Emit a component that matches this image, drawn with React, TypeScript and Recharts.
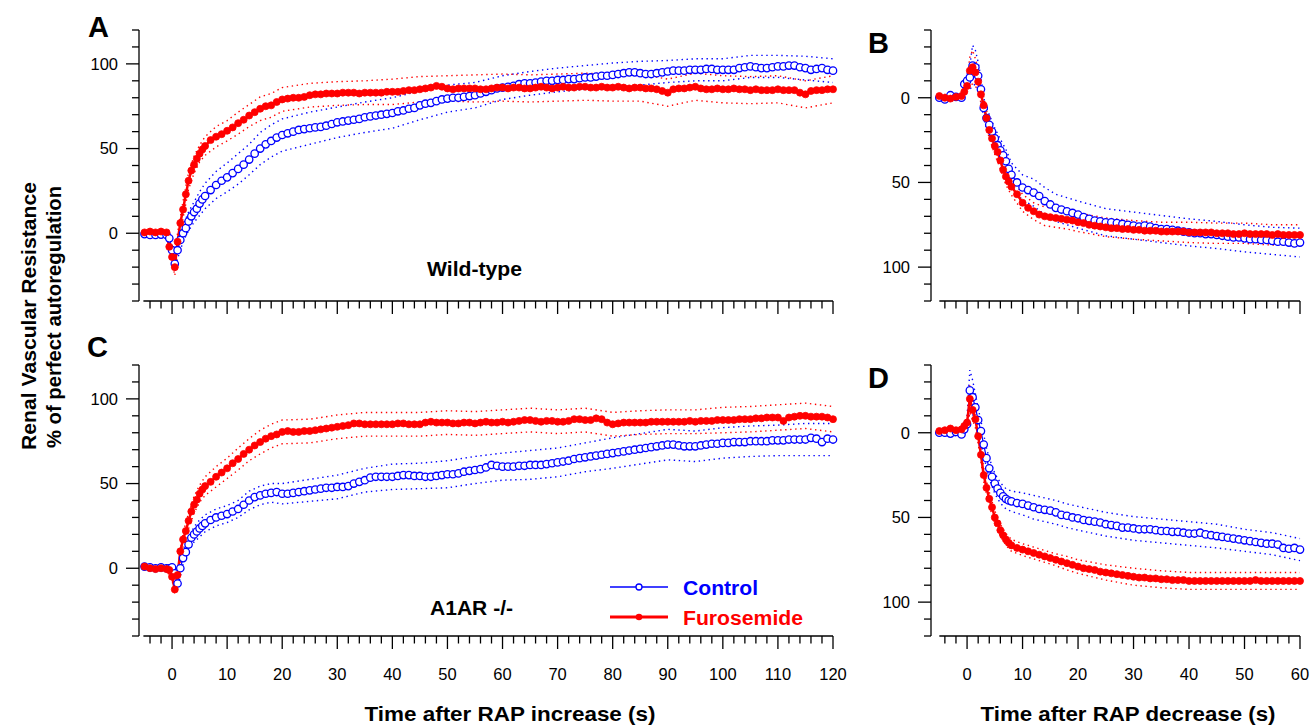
import React from 'react';
import { LineChart, Line, XAxis, YAxis, ReferenceLine } from 'recharts';

const FONT = '"Liberation Sans", Arial, Helvetica, sans-serif';
const BLUE = '#0000FF';
const RED = '#FF0000';

function range(a: number, b: number, step: number): number[] {
  const out: number[] = [];
  const n = Math.round((b - a) / step);
  for (let i = 0; i <= n; i++) out.push(a + i * step);
  return out;
}

// time categories (s)
const timesLeft = [...range(-5, -1, 1), ...range(-0.5, 6, 0.5), ...range(7, 120, 1)];
const timesRight = [...range(-5, -1, 1), ...range(-0.5, 8, 0.5), ...range(9, 60, 1)];
const semTimesLeft = [-5, -1, 0, 0.5, 1, 2, 3, 4, 5, 6, 8, 10, 12, 14, 16, 18, 20, 25, 30, 35, 40, 45, 50, 55, 60, 65, 70, 75, 80, 85, 90, 95, 100, 105, 110, 115, 120];
const semTimesRight = [-5, -1, -0.5, 0, 0.5, 1, 1.5, 2, 2.5, 3, 3.5, 4, 5, 6, 7, 8, 10, 12, 14, 16, 18, 20, 25, 30, 35, 40, 45, 50, 55, 60];

// tick labels
const xLabelsLeft = [0, 10, 20, 30, 40, 50, 60, 70, 80, 90, 100, 110, 120];
const xLabelsRight = [0, 10, 20, 30, 40, 50, 60];
const yLabels = [0, 50, 100];

// Panel A (wild-type, RAP increase)
const aControl = [
  -0.5, -1, -1, -0.8, -1,
  -3, -10, -18, -10, -4, 0, 3, 7, 10, 12.5, 14.5, 17.5, 20, 22,
  25.5, 28.5, 31, 33, 35.5, 38, 40.5, 43.5, 47, 50,
  52.5, 54.5, 56.5, 58, 59, 60, 61, 61.5, 62, 62.5,
  62.8, 63.5, 64.5, 65.5, 66, 66.5, 67, 67.5, 68.5, 69,
  69.5, 70, 70.5, 71, 72, 72.5, 73.5, 74, 75.5, 76.5,
  77, 78, 79, 79.5, 80, 80, 80.5, 81, 81.5, 82.5,
  83.5, 84.5, 85.5, 86, 86.5, 87, 88, 88.5, 88.5, 89,
  89.5, 90, 90, 90.5, 90.5, 91, 91, 91.5, 92, 92,
  92.5, 93, 93, 93.5, 94, 94.5, 95, 95, 94.5, 94,
  94, 94.5, 95, 95.5, 96, 96, 96, 96.5, 96.5, 96.5,
  97, 97, 96.5, 96.5, 96.5, 96.5, 97.5, 98, 98.5, 98,
  97.5, 97.5, 98, 98.5, 98.5, 99, 99, 98, 97.5, 96.5,
  97, 97.5, 96.5, 96,
];
const aFuro = [
  0.5, 1, 0.5, 1, 0.5,
  -8, -14, -20, -5, 6, 14, 23, 31, 37, 40.5, 44, 47, 49.5, 51.5,
  55, 57, 58.5, 60.5, 62.5, 65, 67, 69.5, 71.5, 73.5,
  75, 75.5, 77.5, 79, 79.5, 80, 80, 80.5, 81.5, 82,
  82, 82.5, 82.5, 82.5, 83, 83, 83, 82.5, 83, 83,
  83, 83, 83.5, 83.5, 83.5, 84, 84.5, 84.5, 85, 85.5,
  86, 87, 86.5, 85.5, 85, 85.5, 85.5, 85.5, 85.5, 85,
  85, 85.5, 86, 86, 85.5, 86, 86, 85.5, 85.5, 86,
  86.5, 86, 85.5, 86, 86.5, 86, 86, 86.5, 86.5, 86,
  86, 86.5, 86, 86, 86.5, 86, 85.5, 86, 86, 85.5,
  85.5, 85, 84, 83, 85, 85.5, 85.5, 86, 86.5, 85.5,
  85, 85, 85.5, 85, 85, 85.5, 85, 85, 84.5, 85,
  84.5, 84.5, 84.5, 85, 84.5, 84.5, 84.5, 83, 82, 84,
  84.5, 84.5, 85, 85,
];
const aControlSem = [1, 1, 3, 5, 5, 5, 5.5, 6, 7, 7.5, 8, 8.5, 9, 9, 9.5, 9.5, 9.5, 9.5, 9, 9, 9, 8.5, 8, 7.5, 7, 7, 7, 7, 7, 7, 6.5, 6.5, 6.5, 6.5, 6.5, 7, 7];
const aFuroSem = [1, 1, 3, 5, 5, 5, 5, 5, 5, 5.5, 6, 6, 6.5, 6.5, 7, 7, 7, 7, 7, 7, 7.5, 7.5, 7.5, 8, 8, 8, 8, 8, 8, 8, 8, 8, 8, 8, 8, 8, 8];

// Panel C (A1AR -/-, RAP increase)
const cControl = [
  1, 0.5, 0, 0.5, 0,
  0, 0.5, -3, -9, 0, 6, 9.5, 14, 18, 20, 21.7, 23.5, 25, 26.5,
  28.5, 30, 31, 32, 33.5, 35, 37.5, 40, 42, 43,
  44, 44.5, 45, 44, 44, 44.5, 45, 45.5, 46, 46.5,
  47, 47.5, 47.5, 48, 48, 48.5, 50, 51, 52, 53.5,
  54, 54, 54, 54, 54.5, 55, 55, 54.5, 54.5, 54,
  54, 54.5, 55, 55.5, 55.5, 56, 57, 57.5, 58, 58.5,
  59.5, 61, 60.5, 60, 60, 60, 60.5, 60.5, 61, 61,
  61, 61.5, 62, 62.5, 63, 63.5, 64.5, 65, 65.5, 66,
  66.5, 67, 67.5, 68, 68.5, 69, 69.5, 70, 70.5, 71,
  71.5, 72, 72.5, 73, 73, 72.5, 72, 72, 72, 72.5,
  73, 73.5, 73.5, 74, 74, 74.5, 74.5, 74.5, 75, 75,
  75, 75, 75.5, 75.5, 75.5, 76, 76, 76, 76, 77,
  76.5, 74.5, 76.5, 76,
];
const cFuro = [
  1, 0, -0.5, 0, -0.5,
  -1, -5, -12.5, -4, 10, 17, 22, 28, 33.5, 37.5, 40.5, 44, 46.5, 48.5,
  51, 54, 56.5, 59, 62, 64.5, 67.5, 70, 72.5, 74.5,
  76.5, 78, 79, 80.5, 81, 80.5, 80.5, 81, 81, 81.5,
  82, 82.5, 83, 83.5, 84, 84.5, 85.5, 85.5, 85, 85,
  85, 85, 85, 85, 85.5, 85.5, 85, 85, 85, 86,
  86.5, 86, 86, 86, 85.5, 85.5, 86, 86, 85.5, 86,
  86.5, 86, 86, 86.5, 86, 86.5, 87, 87.5, 87.5, 87,
  86.5, 87, 87, 86.5, 86.5, 87, 88, 88, 87.5, 87.5,
  88.5, 88, 86, 85, 85.5, 86, 86, 86, 86, 86,
  86.5, 86.5, 86.5, 86.5, 86.5, 86.5, 86.5, 87, 86.5, 87,
  87, 87, 87.5, 87.5, 87.5, 87.5, 88, 88, 88, 88.5,
  88.5, 89, 89, 89, 87, 89, 89.5, 90, 90, 89.5,
  89.5, 89.5, 89, 88,
];
const cControlSem = [1, 1, 2, 3, 3, 3.5, 4, 4.5, 5, 5, 5, 5, 5, 5.5, 5.5, 5.5, 6, 6.5, 7, 7, 7.5, 7.5, 8, 8, 8, 8.5, 8.5, 8.5, 9, 9, 9, 9, 9, 9, 9, 9.5, 9.5];
const cFuroSem = [1, 1, 2, 3, 3, 4, 4.5, 5, 5, 5.5, 6, 6, 6.5, 6.5, 7, 7, 7, 7, 7, 7, 7, 7, 7, 7, 7, 7, 7, 7, 7, 7, 7, 7, 7.5, 7.5, 7.5, 7.5, 7.5];

// Panel B (wild-type, RAP decrease)
const bControl = [
  0, 1, -1.5, -0.5, 0,
  -8, -10, -12, -19, -18, -13, -5, 6, 12, 16, 20, 24, 28, 31, 34, 37.5, 42, 45.5,
  50, 53, 54.5, 56, 58, 61, 63, 65, 66, 67,
  68, 69, 70.5, 71.5, 72.5, 73, 73.5, 73.5, 74, 74.5,
  75, 75.5, 76, 75.5, 76, 77, 77.5, 77.5, 78, 78.5,
  79, 79.5, 80, 80, 80.5, 80.5, 81, 81.5, 82, 82.5,
  82.5, 83, 83.5, 83.5, 84, 84, 84.5, 85, 85, 85.5,
  86, 85.5,
];
const bFuro = [
  -1, 0, 0.5, -0.5, -1,
  -3.5, -7, -16, -18, -15, -9.5, -2, 4.5, 12, 19, 24, 28.5, 32, 37, 42.5, 46.5, 49.5, 52.5,
  57, 62, 65, 67, 69, 70, 70.5, 71, 71.5, 72,
  72.5, 73.5, 74, 75, 75.5, 76, 76.5, 77, 77, 77.5,
  77.5, 78, 78, 78.5, 78.5, 78.5, 79, 79, 79, 79,
  79, 79.5, 79.5, 79.5, 79.5, 79.5, 80, 80, 80, 80.5,
  80.5, 80, 80.5, 80.5, 80.5, 80.5, 81, 80.5, 81, 81,
  81, 81,
];
const bControlSem = [1, 1, 3, 4, 7, 12, 10, 8, 7, 6, 6, 6, 6, 6.5, 7, 7, 7.5, 8, 8, 8, 8, 8, 8, 8, 8, 8, 8, 8, 8, 8.5];
const bFuroSem = [1, 1, 2, 3, 8, 10, 8, 6, 5, 5, 5, 5, 5, 5, 5, 5, 5, 5, 5.5, 5.5, 5.5, 5.5, 5.5, 5.5, 5.5, 6, 6, 6, 6, 6];

// Panel D (A1AR -/-, RAP decrease)
const dControl = [
  0, 0, 0.5, -0.5, 1,
  -2, -5, -25, -21, -15, -7.5, -1, 7, 15, 21, 26, 30, 33, 35.5, 37.5, 39, 40, 40.5,
  41.5, 42, 43, 44, 45, 45.5, 46, 47, 48.5, 49,
  50, 50.5, 51.5, 52, 52.5, 53, 54, 54.5, 55, 56,
  56, 56.5, 57, 57, 57, 57.5, 58, 58, 58.5, 58.5,
  59, 59.5, 59.5, 59, 60, 60.5, 61, 61.5, 62, 62.5,
  63, 63.5, 64, 64.5, 65, 65.5, 65.5, 66, 68, 68.5,
  68, 69,
];
const dFuro = [
  -1, -1.5, -2.5, -1.5, -2,
  -4, -6, -20, -13.5, -8, 2, 13, 25, 32.5, 39, 44, 50, 53.5, 57.5, 60.5, 63, 65, 66.5,
  68, 69, 70, 71, 72, 73, 74, 75, 76, 77,
  78, 79, 80, 80.5, 81, 82, 82.5, 83, 83.5, 84,
  84.5, 85, 85.5, 85.5, 86, 86, 86.5, 86.5, 87, 87,
  87, 87.5, 87.5, 87.5, 87.5, 87.5, 87.5, 87.5, 87.5, 87.5,
  87.5, 87.5, 87.5, 87, 87.5, 87.5, 87.5, 87.5, 87.5, 87.5,
  87.5, 87.5,
];
const dControlSem = [1, 1, 2, 4, 12, 10, 8, 7, 6, 6, 6, 6, 6, 6, 6, 6, 6.5, 7, 7, 7, 7, 7, 7, 7, 7, 7, 7, 6.5, 6.5, 6.5];
const dFuroSem = [1, 1, 2, 3, 8, 6, 5, 4.5, 4, 4, 4, 4, 4, 3.5, 3.5, 3.5, 3.5, 3.5, 3.5, 3.5, 4, 4, 4.5, 5, 5, 5, 5, 5, 5, 5];

type Pt = { t: number; v: number };
const series = (times: number[], vals: number[]): Pt[] => times.map((t, i) => ({ t, v: vals[i] }));
const band = (times: number[], vals: number[], semT: number[], sem: number[], sign: number): Pt[] =>
  semT.map((t, i) => ({ t, v: vals[times.indexOf(t)] + sign * sem[i] }));

const PLOT_TOP = 30;
const PLOT_H = 271;
const PLOT_BOTTOM = PLOT_TOP + PLOT_H;

const yTicks = range(-40, 120, 10);

interface PanelProps {
  left: number;
  top: number;
  yWidth: number;
  plotW: number;
  rightPad: number;
  domainX: [number, number];
  xTicks: number[];
  xLabels: number[];
  xStart: number;
  xEnd: number;
  reversed: boolean;
  showXLabels: boolean;
  times: number[];
  semTimes: number[];
  ctrl: number[];
  furo: number[];
  ctrlSem: number[];
  furoSem: number[];
}

function Panel(p: PanelProps) {
  const xAxisH = p.showXLabels ? 60 : 30;
  const W = p.yWidth + p.plotW + p.rightPad;
  const H = PLOT_TOP + PLOT_H + xAxisH;
  const ctrlData = series(p.times, p.ctrl);
  const furoData = series(p.times, p.furo);
  const ctrlUp = band(p.times, p.ctrl, p.semTimes, p.ctrlSem, 1);
  const ctrlLo = band(p.times, p.ctrl, p.semTimes, p.ctrlSem, -1);
  const furoUp = band(p.times, p.furo, p.semTimes, p.furoSem, 1);
  const furoLo = band(p.times, p.furo, p.semTimes, p.furoSem, -1);
  const yBottom = p.reversed ? 120 : -40;

  const XTick = (props: any) => {
    const x = props.x;
    const v = props.payload.value;
    const major = p.xLabels.indexOf(v) >= 0;
    const len = major ? 13 : 7.5;
    return (
      <g>
        <line x1={x} y1={PLOT_BOTTOM} x2={x} y2={PLOT_BOTTOM + len} stroke="#000" strokeWidth={1.3} />
        {major && p.showXLabels ? (
          <text x={x} y={PLOT_BOTTOM + 44} textAnchor="middle" fontSize={16.5} fontFamily={FONT} fill="#000">
            {v}
          </text>
        ) : null}
      </g>
    );
  };
  const YTick = (props: any) => {
    const y = props.y;
    const x = p.yWidth;
    const v = props.payload.value;
    const major = yLabels.indexOf(v) >= 0;
    const len = major ? 13 : 7;
    return (
      <g>
        <line x1={x - len} y1={y} x2={x} y2={y} stroke="#000" strokeWidth={1.3} />
        {major ? (
          <text x={x - 21} y={y} dy="0.35em" textAnchor="end" fontSize={16.5} fontFamily={FONT} fill="#000">
            {v}
          </text>
        ) : null}
      </g>
    );
  };

  return (
    <div style={{ position: 'absolute', left: p.left, top: p.top }}>
      <LineChart width={W} height={H} margin={{ top: PLOT_TOP, right: p.rightPad, bottom: 0, left: 0 }}>
        <XAxis
          dataKey="t"
          type="number"
          domain={p.domainX}
          ticks={p.xTicks}
          interval={0}
          axisLine={false}
          tickLine={false}
          tickSize={0}
          tickMargin={0}
          height={xAxisH}
          tick={XTick}
        />
        <YAxis
          type="number"
          domain={[-40, 120]}
          reversed={p.reversed}
          ticks={yTicks}
          interval={0}
          width={p.yWidth}
          axisLine={{ stroke: '#000', strokeWidth: 1.3 }}
          tickLine={false}
          tickSize={0}
          tickMargin={0}
          tick={YTick}
        />
        <ReferenceLine
          segment={[{ x: p.xStart, y: yBottom }, { x: p.xEnd, y: yBottom }]}
          stroke="#000"
          strokeWidth={1.3}
        />
        <Line data={ctrlUp} dataKey="v" stroke={BLUE} strokeWidth={1.4} strokeDasharray="1.4 3.6" dot={false} activeDot={false} isAnimationActive={false} />
        <Line data={ctrlLo} dataKey="v" stroke={BLUE} strokeWidth={1.4} strokeDasharray="1.4 3.6" dot={false} activeDot={false} isAnimationActive={false} />
        <Line data={furoUp} dataKey="v" stroke={RED} strokeWidth={1.4} strokeDasharray="1.4 3.6" dot={false} activeDot={false} isAnimationActive={false} />
        <Line data={furoLo} dataKey="v" stroke={RED} strokeWidth={1.4} strokeDasharray="1.4 3.6" dot={false} activeDot={false} isAnimationActive={false} />
        <Line
          data={ctrlData}
          dataKey="v"
          stroke={BLUE}
          strokeWidth={1.2}
          dot={{ r: 3.7, stroke: BLUE, strokeWidth: 1.3, fill: '#fff' }}
          activeDot={false}
          isAnimationActive={false}
        />
        <Line
          data={furoData}
          dataKey="v"
          stroke={RED}
          strokeWidth={2.5}
          dot={{ r: 3.5, stroke: RED, strokeWidth: 0.8, fill: RED }}
          activeDot={false}
          isAnimationActive={false}
        />
      </LineChart>
    </div>
  );
}

const leftTicks = range(-4, 120, 2);
const rightTicks = range(-4, 60, 2);

export default function App() {
  const bold = { fontFamily: FONT, fontWeight: 700 as const, fill: '#000' };
  return (
    <div style={{ position: 'absolute', left: 0, top: 0, width: 1313, height: 726, background: '#fff', overflow: 'hidden' }}>
      <Panel
        left={60} top={0} yWidth={79} plotW={694} rightPad={24} domainX={[-6, 120]} xTicks={leftTicks} xLabels={xLabelsLeft}
        xStart={-5.2} xEnd={120} reversed={false} showXLabels={false}
        times={timesLeft} semTimes={semTimesLeft} ctrl={aControl} furo={aFuro} ctrlSem={aControlSem} furoSem={aFuroSem}
      />
      <Panel
        left={60} top={335} yWidth={79} plotW={694} rightPad={24} domainX={[-6, 120]} xTicks={leftTicks} xLabels={xLabelsLeft}
        xStart={-5.2} xEnd={120} reversed={false} showXLabels={true}
        times={timesLeft} semTimes={semTimesLeft} ctrl={cControl} furo={cFuro} ctrlSem={cControlSem} furoSem={cFuroSem}
      />
      <Panel
        left={860} top={0} yWidth={71} plotW={369} rightPad={13} domainX={[-6.5, 60]} xTicks={rightTicks} xLabels={xLabelsRight}
        xStart={-5} xEnd={60} reversed={true} showXLabels={false}
        times={timesRight} semTimes={semTimesRight} ctrl={bControl} furo={bFuro} ctrlSem={bControlSem} furoSem={bFuroSem}
      />
      <Panel
        left={860} top={335} yWidth={71} plotW={369} rightPad={13} domainX={[-6.5, 60]} xTicks={rightTicks} xLabels={xLabelsRight}
        xStart={-5} xEnd={60} reversed={true} showXLabels={true}
        times={timesRight} semTimes={semTimesRight} ctrl={dControl} furo={dFuro} ctrlSem={dControlSem} furoSem={dFuroSem}
      />
      <svg width={1313} height={726} style={{ position: 'absolute', left: 0, top: 0, pointerEvents: 'none' }}>
        <text x={88} y={37} fontSize={29} {...bold}>A</text>
        <text x={868} y={53} fontSize={29} {...bold}>B</text>
        <text x={87} y={357} fontSize={29} {...bold}>C</text>
        <text x={868} y={388} fontSize={29} {...bold}>D</text>
        <text x={427} y={276} fontSize={20} textLength={95} lengthAdjust="spacingAndGlyphs" {...bold}>Wild-type</text>
        <text x={430} y={615} fontSize={20} textLength={83} lengthAdjust="spacingAndGlyphs" {...bold}>A1AR -/-</text>
        <line x1={610} y1={587} x2={668} y2={587} stroke={BLUE} strokeWidth={1.3} />
        <circle cx={639} cy={587} r={3} stroke={BLUE} strokeWidth={1.3} fill="#fff" />
        <line x1={610} y1={617} x2={668} y2={617} stroke={RED} strokeWidth={3} />
        <circle cx={639} cy={617} r={3.3} fill={RED} />
        <text x={683} y={595} fontSize={20} textLength={75} lengthAdjust="spacingAndGlyphs" fontFamily={FONT} fontWeight={700} fill={BLUE}>Control</text>
        <text x={683} y={625} fontSize={20} textLength={120} lengthAdjust="spacingAndGlyphs" fontFamily={FONT} fontWeight={700} fill={RED}>Furosemide</text>
        <text x={510} y={721} fontSize={21} textAnchor="middle" textLength={291} lengthAdjust="spacingAndGlyphs" {...bold}>Time after RAP increase (s)</text>
        <text x={1128} y={721} fontSize={21} textAnchor="middle" textLength={295} lengthAdjust="spacingAndGlyphs" {...bold}>Time after RAP decrease (s)</text>
        <text x={36} y={316} fontSize={21} textAnchor="middle" transform="rotate(-90 36 316)" textLength={268} lengthAdjust="spacingAndGlyphs" {...bold}>Renal Vascular Resistance</text>
        <text x={61} y={317} fontSize={21} textAnchor="middle" transform="rotate(-90 61 317)" textLength={262} lengthAdjust="spacingAndGlyphs" {...bold}>% of perfect autoregulation</text>
      </svg>
    </div>
  );
}
